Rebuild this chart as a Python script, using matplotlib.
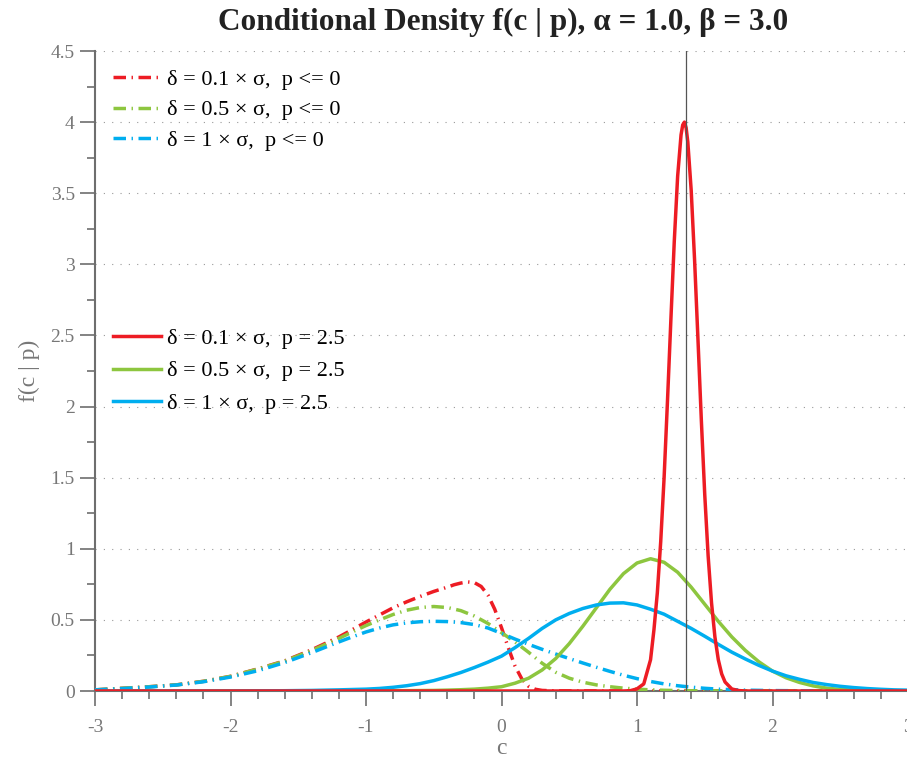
import matplotlib
matplotlib.use('Agg')
import matplotlib.pyplot as plt
from matplotlib.ticker import MultipleLocator, FormatStrFormatter

plt.rcParams['font.family'] = ['Liberation Serif', 'DejaVu Serif']

# valores

# p <= 0 (tracejado)
c_red_neg = [-3.0, -2.8, -2.6, -2.4, -2.2, -2.0, -1.8, -1.6, -1.4, -1.2, -1.1, -1.0, -0.9, -0.8,
             -0.7, -0.6, -0.5, -0.4, -0.35, -0.3, -0.25, -0.2, -0.15, -0.1, -0.05, 0.0, 0.05,
             0.1, 0.15, 0.2, 0.25, 0.3, 0.4, 0.6, 1.0, 2.0, 3.0]
f_red_neg = [0.008, 0.019, 0.03, 0.043, 0.068, 0.103, 0.155, 0.212, 0.29, 0.38, 0.432, 0.485, 0.535, 0.585,
             0.627, 0.665, 0.7, 0.73, 0.747, 0.759, 0.767, 0.762, 0.735, 0.675, 0.575, 0.445, 0.305,
             0.175, 0.085, 0.033, 0.012, 0.004, 0.001, 0.0, 0.0, 0.0, 0.0]

c_green_neg = [-3.0, -2.8, -2.6, -2.4, -2.2, -2.0, -1.8, -1.6, -1.4, -1.2, -1.1, -1.0, -0.9, -0.8,
               -0.7, -0.6, -0.5, -0.4, -0.3, -0.2, -0.1, 0.0, 0.1, 0.2, 0.3, 0.4, 0.5, 0.6,
               0.7, 0.8, 0.9, 1.0, 1.1, 1.2, 1.35, 1.5, 2.0, 3.0]
f_green_neg = [0.008, 0.019, 0.03, 0.043, 0.068, 0.103, 0.154, 0.21, 0.285, 0.37, 0.416, 0.46, 0.5, 0.538,
               0.568, 0.587, 0.594, 0.587, 0.565, 0.527, 0.475, 0.41, 0.345, 0.272, 0.195, 0.132, 0.09, 0.062,
               0.043, 0.03, 0.02, 0.013, 0.008, 0.005, 0.002, 0.001, 0.0, 0.0]

c_blue_neg = [-3.0, -2.8, -2.6, -2.4, -2.2, -2.0, -1.8, -1.6, -1.4, -1.2, -1.1, -1.0, -0.9, -0.8,
              -0.7, -0.6, -0.5, -0.4, -0.3, -0.2, -0.1, 0.0, 0.1, 0.2, 0.3, 0.4, 0.5, 0.6,
              0.7, 0.8, 0.9, 1.0, 1.1, 1.2, 1.3, 1.4, 1.5, 1.6, 1.8, 2.0, 2.3, 2.6, 3.0]
f_blue_neg = [0.008, 0.017, 0.028, 0.042, 0.065, 0.098, 0.142, 0.2, 0.27, 0.345, 0.381, 0.415, 0.443, 0.465,
              0.479, 0.487, 0.49, 0.488, 0.481, 0.467, 0.443, 0.405, 0.365, 0.328, 0.293, 0.26, 0.228, 0.197,
              0.167, 0.138, 0.111, 0.087, 0.067, 0.05, 0.037, 0.027, 0.019, 0.013, 0.006, 0.003, 0.001, 0.0, 0.0]

# p = 2.5 (continuo)
c_red_pos = [-3.0, 0.9, 0.95, 1.0, 1.05, 1.1, 1.125, 1.15, 1.175, 1.2, 1.225, 1.25, 1.275,
             1.3, 1.325, 1.3375, 1.35, 1.3625, 1.375, 1.4, 1.425, 1.45, 1.475, 1.5, 1.525, 1.55,
             1.575, 1.6, 1.625, 1.65, 1.7, 1.75, 1.8, 3.0]
f_red_pos = [0.0, 0.0, 0.002, 0.015, 0.05, 0.22, 0.43, 0.69, 1.05, 1.5, 2.04, 2.61, 3.16,
             3.62, 3.91, 3.98, 4.0, 3.96, 3.86, 3.52, 3.03, 2.47, 1.9, 1.38, 0.95, 0.62,
             0.38, 0.22, 0.12, 0.063, 0.014, 0.003, 0.0, 0.0]

c_green_pos = [-3.0, -1.0, -0.5, -0.4, -0.3, -0.2, -0.1, 0.0, 0.1, 0.2, 0.3, 0.4, 0.5, 0.6,
               0.7, 0.8, 0.9, 1.0, 1.1, 1.2, 1.3, 1.4, 1.5, 1.6, 1.7, 1.8, 1.9, 2.0, 2.1,
               2.2, 2.3, 2.4, 2.5, 2.6, 2.7, 2.8, 3.0]
f_green_pos = [0.0, 0.0, 0.004, 0.006, 0.009, 0.013, 0.02, 0.03, 0.055, 0.09, 0.148, 0.228, 0.333, 0.455,
               0.585, 0.715, 0.825, 0.9, 0.93, 0.905, 0.835, 0.73, 0.61, 0.49, 0.38, 0.285, 0.205, 0.14, 0.093,
               0.06, 0.036, 0.02, 0.011, 0.006, 0.003, 0.001, 0.0]

c_blue_pos = [-3.0, -2.0, -1.6, -1.4, -1.2, -1.0, -0.9, -0.8, -0.7, -0.6, -0.5, -0.4, -0.3, -0.2,
              -0.1, 0.0, 0.1, 0.2, 0.3, 0.4, 0.5, 0.6, 0.7, 0.8, 0.9, 1.0, 1.1, 1.2, 1.3,
              1.4, 1.5, 1.6, 1.7, 1.8, 1.9, 2.0, 2.1, 2.2, 2.3, 2.4, 2.5, 2.6, 2.7, 2.8,
              2.9, 3.0]
f_blue_pos = [0.0, 0.0, 0.002, 0.004, 0.008, 0.013, 0.018, 0.026, 0.037, 0.052, 0.073, 0.1, 0.13, 0.165,
              0.203, 0.245, 0.305, 0.37, 0.44, 0.5, 0.545, 0.58, 0.605, 0.618, 0.62, 0.605, 0.575, 0.54, 0.49,
              0.44, 0.385, 0.328, 0.273, 0.225, 0.18, 0.14, 0.107, 0.082, 0.06, 0.045, 0.033, 0.024, 0.017, 0.012,
              0.008, 0.006]

c_linha = 1.36

rotulos = ['\u03b4 = 0.1 \u00d7 \u03c3,  p = 2.5', '\u03b4 = 0.5 \u00d7 \u03c3,  p = 2.5',
           '\u03b4 = 1 \u00d7 \u03c3,  p = 2.5']
rotulos_neg = ['\u03b4 = 0.1 \u00d7 \u03c3,  p <= 0', '\u03b4 = 0.5 \u00d7 \u03c3,  p <= 0',
               '\u03b4 = 1 \u00d7 \u03c3,  p <= 0']

vermelho = '#ED1C24'
verde = '#8DC63F'
azul = '#00AEEF'
cinza = '#6E6E6E'

fig = plt.figure(figsize=(9.07, 7.61), dpi=100)
ax = fig.add_axes([95 / 907, 1 - 691 / 761, 813 / 907, 640 / 761])

traco = (0, (3.6, 1.6, 0.4, 1.6))
lw = 2.5

l1, = ax.plot(c_red_neg, f_red_neg, color=vermelho, lw=lw, linestyle=traco, zorder=3)
l2, = ax.plot(c_green_neg, f_green_neg, color=verde, lw=lw, linestyle=traco, zorder=3)
l3, = ax.plot(c_blue_neg, f_blue_neg, color=azul, lw=lw, linestyle=traco, zorder=3)

s2, = ax.plot(c_green_pos, f_green_pos, color=verde, lw=lw, zorder=4)
s3, = ax.plot(c_blue_pos, f_blue_pos, color=azul, lw=lw, zorder=4)
s1, = ax.plot(c_red_pos, f_red_pos, color=vermelho, lw=lw, zorder=5)

ax.axvline(c_linha, color='#555555', lw=0.9, zorder=6)

ax.set_xlim(-3, 3)
ax.set_ylim(0, 4.5)
ax.xaxis.set_major_locator(MultipleLocator(1))
ax.xaxis.set_minor_locator(MultipleLocator(0.2))
ax.yaxis.set_major_locator(MultipleLocator(0.5))
ax.yaxis.set_minor_locator(MultipleLocator(0.25))
ax.yaxis.set_major_formatter(FormatStrFormatter('%g'))
ax.xaxis.set_major_formatter(FormatStrFormatter('%g'))

for lado in ['top', 'right']:
    ax.spines[lado].set_visible(False)
for lado in ['left', 'bottom']:
    ax.spines[lado].set_color(cinza)
    ax.spines[lado].set_linewidth(1.5)

ax.tick_params(which='major', direction='out', length=11, width=1.2, color=cinza,
               labelcolor='#777777', labelsize=14)
ax.tick_params(which='minor', direction='out', length=5.5, width=1.2, color=cinza)
ax.tick_params(axis='x', which='major', pad=9)
ax.tick_params(axis='y', which='major', pad=3.5)

ax.grid(True, axis='y', which='major', linestyle=(0, (1, 6.5)), color='#999999', lw=0.8)
ax.set_axisbelow(True)

ax.set_xlabel('c', fontsize=17, color='#777777')
ax.xaxis.set_label_coords(0.5, -0.073)
ax.set_ylabel('f(c | p)', fontsize=17, color='#777777')
ax.yaxis.set_label_coords(-0.068, 0.5)

fig.text(503 / 907, 1 - 22 / 761, 'Conditional Density f(c | p), \u03b1 = 1.0, \u03b2 = 3.0',
         ha='center', va='center', fontsize=22.5, fontweight='bold', color='#222222')

leg1 = ax.legend([l1, l2, l3], rotulos_neg, loc='upper left', frameon=False, fontsize=16,
                 handlelength=2.15, handletextpad=0.3, labelspacing=0.46, borderpad=0,
                 borderaxespad=0, bbox_to_anchor=(113 / 907, 1 - 69 / 761),
                 bbox_transform=fig.transFigure)
ax.add_artist(leg1)
ax.legend([s1, s2, s3], rotulos, loc='upper left', frameon=False, fontsize=16,
          handlelength=2.15, handletextpad=0.3, labelspacing=0.55, borderpad=0,
          borderaxespad=0, bbox_to_anchor=(113 / 907, 1 - 328 / 761),
          bbox_transform=fig.transFigure)

fig.savefig('out.png', dpi=100)
